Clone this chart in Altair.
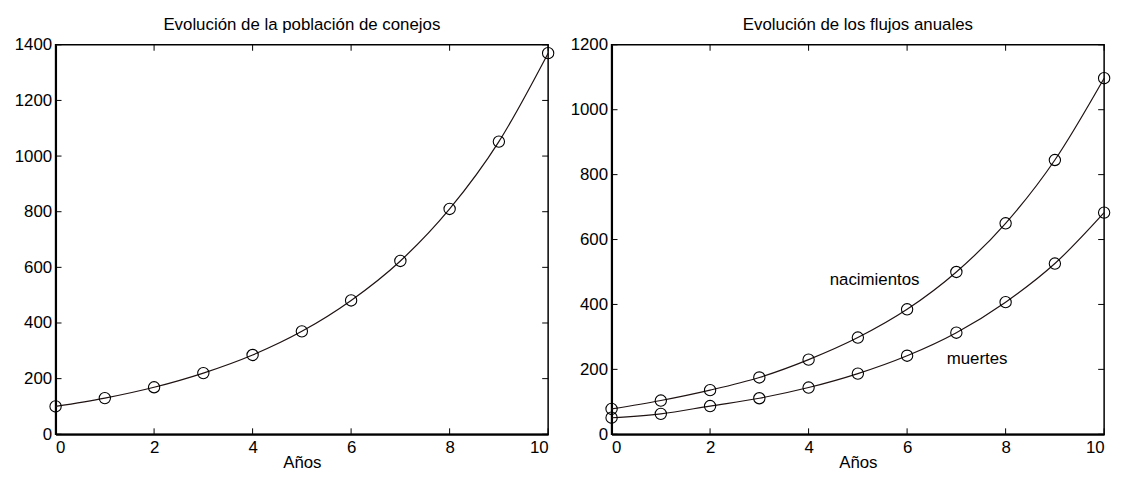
import altair as alt
import pandas as pd

# Data
years = [0, 1, 2, 3, 4, 5, 6, 7, 8, 9, 10]
poblacion = [100, 130, 169, 220, 285, 370, 481, 623, 810, 1052, 1370]
nacimientos = [78, 104, 136, 175, 230, 298, 385, 500, 650, 845, 1097]
muertes = [51, 63, 87, 111, 144, 187, 242, 313, 407, 526, 683]

x_ticks = [0, 2, 4, 6, 8, 10]
y_ticks_left = [0, 200, 400, 600, 800, 1000, 1200, 1400]
y_ticks_right = [0, 200, 400, 600, 800, 1000, 1200]

labels_text = ["nacimientos", "muertes"]
labels_x = [5.34, 7.42]
labels_y = [475, 231]

FONT = "Liberation Sans"
FS = 17
LINE = "#1e1212"
W1, W2, H = 497, 497, 393
TK = 6

df_pop = pd.DataFrame({"t": years, "v": poblacion, "s": "poblacion"})
df_flu = pd.concat([
    pd.DataFrame({"t": years, "v": nacimientos, "s": "nacimientos"}),
    pd.DataFrame({"t": years, "v": muertes, "s": "muertes"}),
])
df_lab = pd.DataFrame({"t": labels_x, "v": labels_y, "txt": labels_text})


def panel(df, ymax, yt, width, title, extra=None):
    xs = alt.Scale(domain=[0, 10], nice=False)
    ys = alt.Scale(domain=[0, ymax], nice=False)
    xax = alt.Axis(values=x_ticks, ticks=False, grid=False, domain=True,
                   domainColor="black", domainWidth=2, labelPadding=5,
                   labelFontSize=FS, labelFont=FONT, labelColor="black",
                   title="Años", titleFont=FONT, titleFontSize=FS,
                   titleFontWeight="normal", titleColor="black", titlePadding=0)
    yax = alt.Axis(values=yt, ticks=False, grid=False, domain=True, format="d",
                   domainColor="black", domainWidth=2, labelPadding=4,
                   labelFontSize=FS, labelFont=FONT, labelColor="black",
                   title=None)
    base = alt.Chart(df)
    line = base.mark_line(color=LINE, strokeWidth=1.2, interpolate="monotone").encode(
        x=alt.X("t:Q", scale=xs, axis=xax),
        y=alt.Y("v:Q", scale=ys, axis=yax),
        detail="s:N",
    )
    pts = base.mark_point(shape="circle", filled=False, color="black",
                          size=130, strokeWidth=1.1, opacity=1).encode(
        x=alt.X("t:Q", scale=xs), y=alt.Y("v:Q", scale=ys))
    xt = alt.Chart(pd.DataFrame({"k": x_ticks}))
    yt_c = alt.Chart(pd.DataFrame({"k": yt}))
    tb = xt.mark_rule(color="black", strokeWidth=1).encode(
        x=alt.X("k:Q", scale=xs), y=alt.value(H), y2=alt.value(H - TK))
    tt = xt.mark_rule(color="black", strokeWidth=1).encode(
        x=alt.X("k:Q", scale=xs), y=alt.value(0), y2=alt.value(TK))
    tl = yt_c.mark_rule(color="black", strokeWidth=1).encode(
        y=alt.Y("k:Q", scale=ys), x=alt.value(0), x2=alt.value(TK))
    tr = yt_c.mark_rule(color="black", strokeWidth=1).encode(
        y=alt.Y("k:Q", scale=ys), x=alt.value(width), x2=alt.value(width - TK))
    layers = [line, pts, tb, tt, tl, tr]
    if extra is not None:
        layers.append(extra)
    return alt.layer(*layers).properties(
        width=width, height=H,
        title=alt.TitleParams(title, font=FONT, fontSize=FS, fontWeight="normal",
                              color="black", offset=2),
    )


txt = alt.Chart(df_lab).mark_text(font=FONT, fontSize=FS, color="black").encode(
    x=alt.X("t:Q", scale=alt.Scale(domain=[0, 10], nice=False)),
    y=alt.Y("v:Q", scale=alt.Scale(domain=[0, 1200], nice=False)),
    text="txt:N",
)

left = panel(df_pop, 1400, y_ticks_left, W1, "Evolución de la población de conejos")
right = panel(df_flu, 1200, y_ticks_right, W2, "Evolución de los flujos anuales", txt)

chart = alt.hconcat(left, right, spacing=12).configure(
    background="white",
    view=alt.ViewConfig(stroke="black", strokeWidth=1.5),
)

chart.save("out.html", embed_options={"renderer": "svg", "actions": False})
